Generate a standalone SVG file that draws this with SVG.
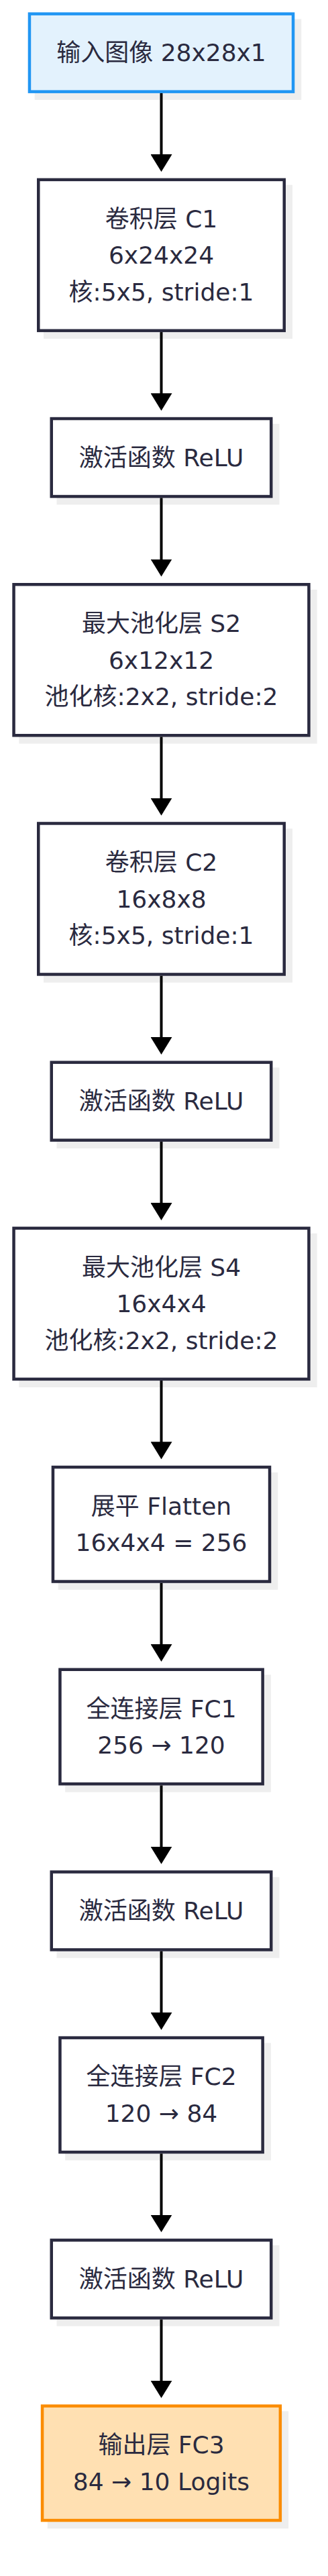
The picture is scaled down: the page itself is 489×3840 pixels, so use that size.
<svg xmlns="http://www.w3.org/2000/svg" width="489" height="3840" viewBox="0 0 489 3840">
<style>
.sh{fill:#eeeeee;stroke:none}
.box{fill:#ffffff;stroke:#2a2a3f;stroke-width:4.5}
.in{fill:#e3f2fd;stroke:#2196f3;stroke-width:4.5}
.out{fill:#ffe0b2;stroke:#fb8c00;stroke-width:4.5}
.t{font-family:"DejaVu Sans","Noto Sans CJK SC",sans-serif;font-size:36px;fill:#2a2a3f;text-anchor:middle}
.c{stroke:#000;stroke-width:4;fill:none}
</style>
<defs>
<marker id="ah" viewBox="0 0 26 32" refX="10" refY="16" markerWidth="26" markerHeight="32" markerUnits="userSpaceOnUse" orient="auto">
<path d="M0,0 L26,16 L0,32 Z" fill="#000"/>
</marker>
</defs>
<rect width="489" height="3840" fill="#ffffff"/>
<g id="n1"><rect class="sh" x="51.7" y="28.4" width="397.6" height="120.5"/><rect class="in" x="43.95" y="20.65" width="393.1" height="116"/><text class="t" x="240.5" y="91.4">输入图像 28x28x1</text></g>
<g id="n2"><rect class="sh" x="65" y="275.6" width="371" height="229.5"/><rect class="box" x="57.25" y="267.85" width="366.5" height="225"/><text class="t" x="240.5" y="338.6">卷积层 C1</text><text class="t" x="240.5" y="393.1">6x24x24</text><text class="t" x="240.5" y="447.6">核:5x5, stride:1</text></g>
<g id="n3"><rect class="sh" x="84.5" y="631.8" width="332" height="120.5"/><rect class="box" x="76.75" y="624.05" width="327.5" height="116"/><text class="t" x="240.5" y="694.8">激活函数 ReLU</text></g>
<g id="n4"><rect class="sh" x="28.3" y="879" width="444.4" height="229.5"/><rect class="box" x="20.55" y="871.25" width="439.9" height="225"/><text class="t" x="240.5" y="942">最大池化层 S2</text><text class="t" x="240.5" y="996.5">6x12x12</text><text class="t" x="240.5" y="1051">池化核:2x2, stride:2</text></g>
<g id="n5"><rect class="sh" x="65" y="1235.2" width="371" height="229.5"/><rect class="box" x="57.25" y="1227.45" width="366.5" height="225"/><text class="t" x="240.5" y="1298.2">卷积层 C2</text><text class="t" x="240.5" y="1352.7">16x8x8</text><text class="t" x="240.5" y="1407.2">核:5x5, stride:1</text></g>
<g id="n6"><rect class="sh" x="84.5" y="1591.4" width="332" height="120.5"/><rect class="box" x="76.75" y="1583.65" width="327.5" height="116"/><text class="t" x="240.5" y="1654.4">激活函数 ReLU</text></g>
<g id="n7"><rect class="sh" x="28.3" y="1838.6" width="444.4" height="229.5"/><rect class="box" x="20.55" y="1830.85" width="439.9" height="225"/><text class="t" x="240.5" y="1901.6">最大池化层 S4</text><text class="t" x="240.5" y="1956.1">16x4x4</text><text class="t" x="240.5" y="2010.6">池化核:2x2, stride:2</text></g>
<g id="n8"><rect class="sh" x="86.7" y="2194.8" width="327.6" height="175"/><rect class="box" x="78.95" y="2187.05" width="323.1" height="170.5"/><text class="t" x="240.5" y="2257.8">展平 Flatten</text><text class="t" x="240.5" y="2312.3">16x4x4 = 256</text></g>
<g id="n9"><rect class="sh" x="97.2" y="2496.5" width="306.7" height="175"/><rect class="box" x="89.45" y="2488.75" width="302.2" height="170.5"/><text class="t" x="240.5" y="2559.5">全连接层 FC1</text><text class="t" x="240.5" y="2614">256 → 120</text></g>
<g id="n10"><rect class="sh" x="84.5" y="2798.2" width="332" height="120.5"/><rect class="box" x="76.75" y="2790.45" width="327.5" height="116"/><text class="t" x="240.5" y="2861.2">激活函数 ReLU</text></g>
<g id="n11"><rect class="sh" x="97.2" y="3045.4" width="306.7" height="175"/><rect class="box" x="89.45" y="3037.65" width="302.2" height="170.5"/><text class="t" x="240.5" y="3108.4">全连接层 FC2</text><text class="t" x="240.5" y="3162.9">120 → 84</text></g>
<g id="n12"><rect class="sh" x="84.5" y="3347.1" width="332" height="120.5"/><rect class="box" x="76.75" y="3339.35" width="327.5" height="116"/><text class="t" x="240.5" y="3410.1">激活函数 ReLU</text></g>
<g id="n13"><rect class="sh" x="70.8" y="3594.3" width="359.3" height="175"/><rect class="out" x="63.05" y="3586.55" width="354.8" height="170.5"/><text class="t" x="240.5" y="3657.3">输出层 FC3</text><text class="t" x="240.5" y="3711.8">84 → 10 Logits</text></g>
<g id="connectors">
<line class="c" x1="240.5" y1="138.9" x2="240.5" y2="240.1" marker-end="url(#ah)"/>
<line class="c" x1="240.5" y1="495.1" x2="240.5" y2="596.3" marker-end="url(#ah)"/>
<line class="c" x1="240.5" y1="742.3" x2="240.5" y2="843.5" marker-end="url(#ah)"/>
<line class="c" x1="240.5" y1="1098.5" x2="240.5" y2="1199.7" marker-end="url(#ah)"/>
<line class="c" x1="240.5" y1="1454.7" x2="240.5" y2="1555.9" marker-end="url(#ah)"/>
<line class="c" x1="240.5" y1="1701.9" x2="240.5" y2="1803.1" marker-end="url(#ah)"/>
<line class="c" x1="240.5" y1="2058.1" x2="240.5" y2="2159.3" marker-end="url(#ah)"/>
<line class="c" x1="240.5" y1="2359.8" x2="240.5" y2="2461" marker-end="url(#ah)"/>
<line class="c" x1="240.5" y1="2661.5" x2="240.5" y2="2762.7" marker-end="url(#ah)"/>
<line class="c" x1="240.5" y1="2908.7" x2="240.5" y2="3009.9" marker-end="url(#ah)"/>
<line class="c" x1="240.5" y1="3210.4" x2="240.5" y2="3311.6" marker-end="url(#ah)"/>
<line class="c" x1="240.5" y1="3457.6" x2="240.5" y2="3558.8" marker-end="url(#ah)"/>
</g>
</svg>
